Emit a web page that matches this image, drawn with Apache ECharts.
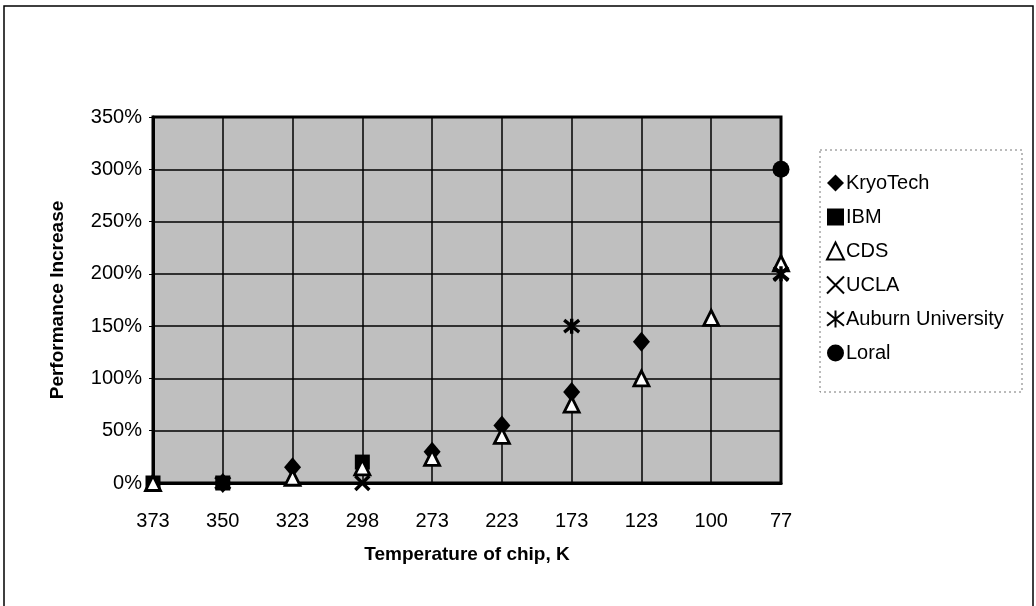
<!DOCTYPE html>
<html>
<head>
<meta charset="utf-8">
<script src="https://cdn.jsdelivr.net/npm/echarts@6/dist/echarts.min.js"></script>
<style>html,body{margin:0;padding:0;background:#fff;}#c{width:1036px;height:606px;}</style>
</head>
<body>
<div id="c"></div>
<script>
var categories = ['373','350','323','298','273','223','173','123','100','77'];
var kryoTech = [null, 0, 15, null, 30, 55, 87, 135, null, null];
var ibm = [0, 0, null, 20, null, null, null, null, null, null];
var cds = [0, null, 5, 15, 24, 45, 75, 100, 158, 210];
var ucla = [null, null, null, 0, null, null, null, null, null, 200];
var auburn = [null, 0, null, null, null, null, 150, null, null, 200];
var loral = [null, null, null, null, null, null, null, null, null, 300];
var yTicks = [0, 50, 100, 150, 200, 250, 300, 350];

var FONT = '"Liberation Sans", Arial, sans-serif';
var xPath = 'path://M0,0 L10,10 M10,0 L0,10';
var starPath = 'path://M0,1 L10,9 M10,1 L0,9 M5,0 L5,10';

function mk(name, data, symbol, size, style) {
  style.opacity = 1;
  return {
    name: name, type: 'scatter', data: data, symbol: symbol, symbolSize: size,
    itemStyle: style, emphasis: {disabled: true}
  };
}

var chart = echarts.init(document.getElementById('c'), null, {renderer: 'canvas'});
chart.setOption({
  animation: false,
  backgroundColor: '#fff',
  textStyle: {fontFamily: FONT, color: '#000'},
  grid: {left: 153, right: 255, top: 117, bottom: 123, show: true,
         backgroundColor: '#bfbfbf', borderColor: '#000', borderWidth: 3},
  xAxis: {
    type: 'category', data: categories, boundaryGap: false,
    name: 'Temperature of chip, K', nameLocation: 'middle', nameGap: 62,
    nameTextStyle: {fontFamily: FONT, fontSize: 19, fontWeight: 'bold', color: '#000'},
    axisLine: {lineStyle: {color: '#000', width: 3}},
    axisTick: {show: false},
    axisLabel: {fontFamily: FONT, fontSize: 20, color: '#000', margin: 28},
    splitLine: {show: true, lineStyle: {color: '#000', width: 1.5}}
  },
  yAxis: {
    type: 'value', min: 0, max: 350, interval: 50,
    name: 'Performance Increase', nameLocation: 'middle', nameGap: 86,
    nameTextStyle: {fontFamily: FONT, fontSize: 19, fontWeight: 'bold', color: '#000'},
    axisLine: {show: true, lineStyle: {color: '#000', width: 3}},
    axisTick: {show: true, length: 4, lineStyle: {color: '#000', width: 1}},
    axisLabel: {fontFamily: FONT, fontSize: 20, color: '#000', margin: 11,
      formatter: function (v) { return yTicks.indexOf(v) >= 0 ? v + '%' : ''; }},
    splitLine: {show: true, lineStyle: {color: '#000', width: 1.5}}
  },
  legend: {
    orient: 'vertical', left: 826, top: 173, itemGap: 14,
    itemWidth: 17, itemHeight: 17, padding: 0,
    textStyle: {fontFamily: FONT, fontSize: 20, color: '#000', padding: [0, 0, 0, -3]},
    data: ['KryoTech', 'IBM', 'CDS', 'UCLA', 'Auburn University', 'Loral']
  },
  graphic: [
    {type: 'rect', shape: {x: 4, y: 6, width: 1029, height: 610}, style: {fill: 'none', stroke: '#000', lineWidth: 1.5}, silent: true},
    {type: 'rect', shape: {x: 820, y: 150, width: 202, height: 242}, style: {fill: 'none', stroke: '#777', lineWidth: 1, lineDash: [2, 3]}, silent: true}
  ],
  series: [
    mk('KryoTech', kryoTech, 'diamond', [17, 20], {color: '#000'}),
    mk('IBM', ibm, 'rect', 15, {color: '#000'}),
    mk('CDS', cds, 'triangle', 15, {color: '#fff', borderColor: '#000', borderWidth: 2.8}),
    mk('UCLA', ucla, xPath, 14, {color: '#000', borderColor: '#000', borderWidth: 3.4}),
    mk('Auburn University', auburn, starPath, 15, {color: '#000', borderColor: '#000', borderWidth: 3.4}),
    mk('Loral', loral, 'circle', 17, {color: '#000'})
  ]
});
</script>
</body>
</html>
